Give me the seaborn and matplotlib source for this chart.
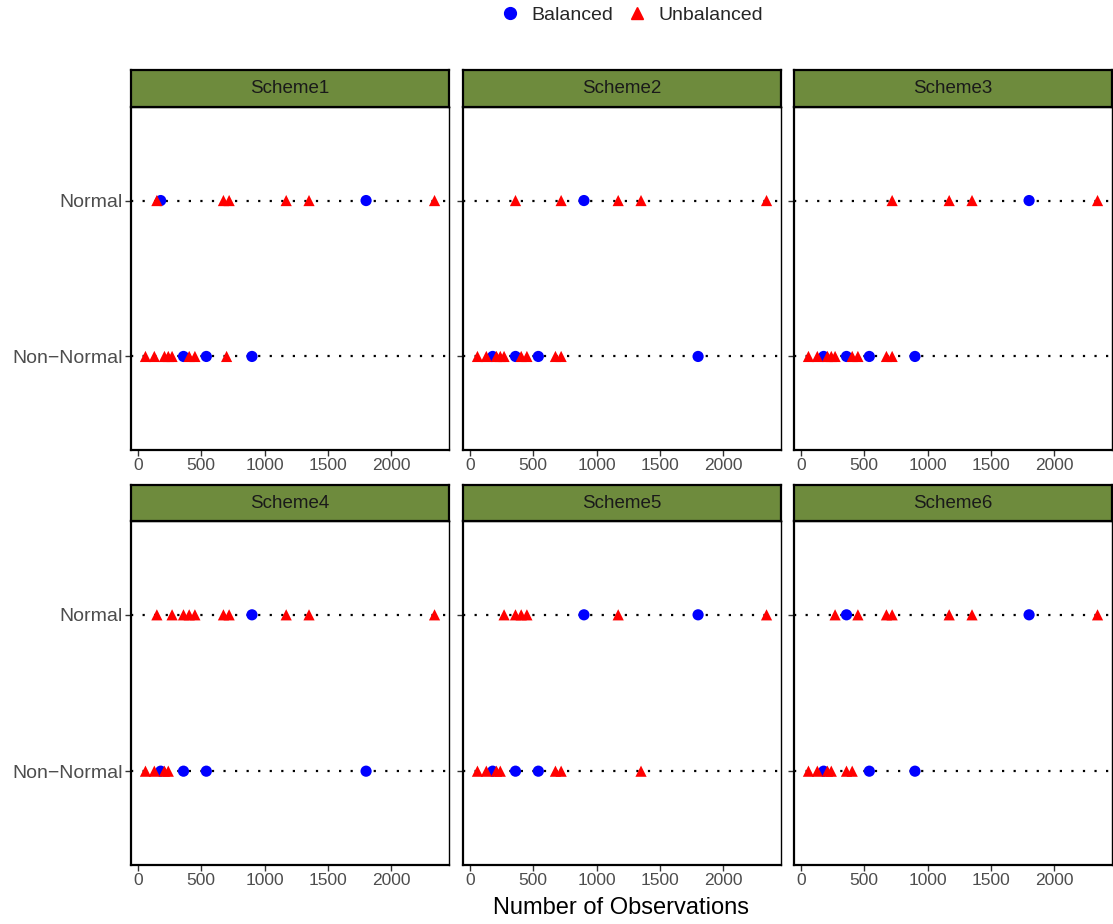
import numpy as np
import pandas as pd
import seaborn as sns
import matplotlib
matplotlib.use("Agg")
import matplotlib.pyplot as plt
from matplotlib.lines import Line2D

# ---------------- data ----------------
schemes = ["Scheme1", "Scheme2", "Scheme3", "Scheme4", "Scheme5", "Scheme6"]
y_levels = ["Non\u2212Normal", "Normal"]
designs = ["Balanced", "Unbalanced"]

normal_bal = {
    "Scheme1": [180, 1800],
    "Scheme2": [900],
    "Scheme3": [1800],
    "Scheme4": [900],
    "Scheme5": [900, 1800],
    "Scheme6": [360, 1800],
}
normal_unbal = {
    "Scheme1": [150, 675, 720, 1170, 1350, 2340],
    "Scheme2": [360, 720, 1170, 1350, 2340],
    "Scheme3": [720, 1170, 1350, 2340],
    "Scheme4": [150, 270, 360, 405, 450, 675, 720, 1170, 1350, 2340],
    "Scheme5": [270, 360, 405, 450, 1170, 2340],
    "Scheme6": [270, 450, 675, 720, 1170, 1350, 2340],
}
nonnormal_bal = {
    "Scheme1": [360, 540, 900],
    "Scheme2": [180, 360, 540, 1800],
    "Scheme3": [180, 360, 540, 900],
    "Scheme4": [180, 360, 540, 1800],
    "Scheme5": [180, 360, 540],
    "Scheme6": [180, 540, 900],
}
nonnormal_unbal = {
    "Scheme1": [60, 130, 210, 240, 270, 405, 450, 700],
    "Scheme2": [60, 130, 210, 240, 270, 405, 450, 675, 720],
    "Scheme3": [60, 130, 210, 240, 270, 405, 450, 675, 720],
    "Scheme4": [60, 130, 210, 240],
    "Scheme5": [60, 130, 210, 240, 675, 720, 1350],
    "Scheme6": [60, 130, 210, 240, 360, 405],
}

x_ticks = [0, 500, 1000, 1500, 2000]

rows = []
for s in schemes:
    for v in normal_bal[s]:
        rows.append((s, "Normal", "Balanced", v))
    for v in normal_unbal[s]:
        rows.append((s, "Normal", "Unbalanced", v))
    for v in nonnormal_bal[s]:
        rows.append((s, "Non\u2212Normal", "Balanced", v))
    for v in nonnormal_unbal[s]:
        rows.append((s, "Non\u2212Normal", "Unbalanced", v))
df = pd.DataFrame(rows, columns=["Scheme", "Dist", "Design", "N"])
df["ypos"] = df["Dist"].map({lvl: i for i, lvl in enumerate(y_levels)})

# ---------------- style ----------------
sns.set_theme(style="white")
plt.rcParams["font.family"] = ["Liberation Sans", "DejaVu Sans"]

W, H = 1113, 924
fig = plt.figure(figsize=(W / 100, H / 100), dpi=100)

palette = {"Balanced": "#0000FF", "Unbalanced": "#FF0000"}
markers = {"Balanced": "o", "Unbalanced": "^"}

xmin, xmax = df["N"].min(), df["N"].max()
rng = xmax - xmin
xlim = (xmin - 0.05 * rng, xmax + 0.05 * rng)

panel_x = [131, 463, 794]
panel_w = 318
panel_rows = [(107, 450, 70), (521, 865, 485)]  # top, bottom, strip top

for i, s in enumerate(schemes):
    r, c = divmod(i, 3)
    ptop, pbot, stop = panel_rows[r]
    left = panel_x[c] / W
    bottom = 1 - pbot / H
    height = (pbot - ptop) / H
    ax = fig.add_axes([left, bottom, panel_w / W, height])
    sub = df[df["Scheme"] == s]
    for yi in range(len(y_levels)):
        ax.axhline(yi, color="black", linestyle=(0, (1, 4.2)), linewidth=1.6, zorder=1)
    sns.scatterplot(data=sub, x="N", y="ypos", hue="Design", style="Design",
                    hue_order=designs, style_order=designs,
                    palette=palette, markers=markers, s=65, linewidth=0,
                    ax=ax, legend=False, zorder=3)
    ax.set_xlim(xlim)
    ax.set_ylim(-0.6, 1.6)
    ax.set_xticks(x_ticks)
    ax.set_yticks(range(len(y_levels)))
    ax.set_xlabel("")
    ax.set_ylabel("")
    if c == 0:
        ax.set_yticklabels(y_levels, fontsize=14, color="#4D4D4D")
    else:
        ax.set_yticklabels([])
    ax.set_xticklabels([str(t) for t in x_ticks], fontsize=12.5, color="#4D4D4D")
    ax.tick_params(axis="both", which="both", length=4, width=1, color="#333333",
                   left=True, bottom=True, pad=2)
    for sp in ax.spines.values():
        sp.set_color("black")
        sp.set_linewidth(1.0)
    ax.spines["left"].set_linewidth(1.6)
    ax.spines["bottom"].set_linewidth(1.6)

    # strip
    sax = fig.add_axes([left, 1 - ptop / H, panel_w / W, (ptop - stop) / H])
    sax.set_xlim(0, 1)
    sax.set_ylim(0, 1)
    sax.set_xticks([])
    sax.set_yticks([])
    sax.set_facecolor("#6E8B3D")
    for sp in sax.spines.values():
        sp.set_color("black")
        sp.set_linewidth(1.6)
    sax.text(0.5, 0.5, s, ha="center", va="center", fontsize=13.5, color="#1A1A1A")

fig.text(621 / W, 1 - 908 / H, "Number of Observations",
         ha="center", va="center", fontsize=17, color="black")

handles = [
    Line2D([], [], linestyle="none", marker="o", color=palette["Balanced"], markersize=8.5),
    Line2D([], [], linestyle="none", marker="^", color=palette["Unbalanced"], markersize=8.5),
]
fig.legend(handles, designs, loc="center", bbox_to_anchor=(0.5674, 1 - 15 / H), ncol=2,
           frameon=False, fontsize=14, handlelength=1.0, handletextpad=0.6,
           columnspacing=0.75)

fig.savefig("out.png", dpi=100)
